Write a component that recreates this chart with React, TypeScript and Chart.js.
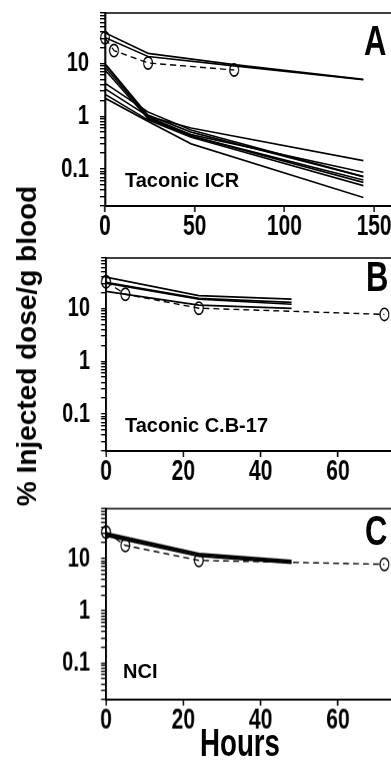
import React, { useEffect, useRef } from "react";
import { Chart, registerables } from "chart.js";

Chart.register(...registerables);

// ---------- data ----------
// Panel A – Taconic ICR
const aHoursHigh = [0, 24, 72, 144];
const aHigh1 = [38, 15.5, 9.5, 5.0];
const aHigh2 = [31, 13.5, 9.0, 4.9];
const aHoursLow = [0, 24, 48, 144];
const aLow1 = [9.5, 1.0, 0.6, 0.145];
const aLow2 = [8.5, 0.95, 0.45, 0.087];
const aLow3 = [10, 1.05, 0.5, 0.072];
const aLow4 = [7.5, 0.9, 0.42, 0.062];
const aLow5 = [4.2, 1.2, 0.55, 0.072];
const aLow6 = [3.3, 1.0, 0.42, 0.056];
const aLow7 = [2.6, 0.85, 0.4, 0.0485];
const aLow8 = [2.2, 0.8, 0.3, 0.029];
const refHours = [0, 5, 24, 72];
const aRef = [30.5, 17.5, 10.2, 7.5];

// Panel B – Taconic C.B-17
const bHours = [0, 24, 48];
const b1 = [39, 17.5, 15];
const b2 = [31, 15.5, 13];
const b3 = [30, 15, 12];
const b4 = [21, 11.5, 10];
const bRef = [32, 18.5, 10.1, 7.7];

// Panel C – NCI
const cHours = [0, 24, 48];
const c1 = [31, 12.5, 9.2];
const c2 = [29.5, 12, 8.8];
const c3 = [28, 11.3, 8.4];
const c4 = [27, 11, 8.1];
const cRef = [32, 17.8, 9.2, 7.75];

// axes
const yMin = 0.02;
const yMax = 90;
const yMajorTicks = [0.1, 1, 10];
const yMajorLabels = ["0.1", "1", "10"];
const yDecades = [0.01, 0.1, 1, 10];
const xTicksA = [0, 50, 100, 150];
const xTicksBC = [0, 20, 40, 60];
const xMaxA = 160;
const xMaxBC = 75;

// the original figure is drawn vertically stretched
const S = 1.4;
const FONT = "'Liberation Sans', Arial, Helvetica, sans-serif";

function yTickValues(): number[] {
  const out: number[] = [];
  for (const d of yDecades) {
    for (let m = 1; m <= 9; m++) {
      const v = +(d * m).toPrecision(3);
      if (v >= yMin - 1e-9 && v <= yMax + 1e-9) out.push(v);
    }
  }
  return out;
}

function yLabel(v: number): string {
  for (let i = 0; i < yMajorTicks.length; i++) {
    if (Math.abs(v - yMajorTicks[i]) < yMajorTicks[i] * 1e-6) return yMajorLabels[i];
  }
  return "";
}

function solid(xs: number[], ys: number[]) {
  return {
    data: xs.map((x, i) => ({ x, y: ys[i] })),
    borderColor: "#000",
    borderWidth: 1.2,
    pointRadius: 0,
    fill: false,
    tension: 0,
    clip: false as const,
  };
}

function dashed(xs: number[], ys: number[]) {
  return {
    data: xs.map((x, i) => ({ x, y: ys[i] })),
    borderColor: "#000",
    borderWidth: 1.0,
    borderDash: [6, 4],
    pointRadius: 4.4,
    pointStyle: "circle",
    pointBackgroundColor: "rgba(0,0,0,0)",
    pointBorderColor: "#000",
    pointBorderWidth: 1.2,
    fill: false,
    tension: 0,
    clip: false as const,
  };
}

const frameTop = {
  id: "frameTop",
  afterDraw(chart: any) {
    const { ctx, chartArea } = chart;
    ctx.save();
    ctx.strokeStyle = "#000";
    ctx.lineWidth = 1.1;
    ctx.beginPath();
    ctx.moveTo(chartArea.left, chartArea.top);
    ctx.lineTo(chartArea.right, chartArea.top);
    ctx.stroke();
    ctx.restore();
  },
};

function makeConfig(
  datasets: any[],
  xMax: number,
  xTicks: number[],
  axisLeft: number,
  padTop: number,
  padRight: number,
  xAxisH: number
) {
  const yTicks = yTickValues();
  return {
    type: "line" as const,
    data: { datasets },
    plugins: [frameTop],
    options: {
      animation: false as const,
      responsive: false,
      devicePixelRatio: S,
      layout: { padding: { top: padTop, right: padRight, left: 0, bottom: 0 } },
      plugins: { legend: { display: false }, tooltip: { enabled: false } },
      scales: {
        x: {
          type: "linear" as const,
          min: 0,
          max: xMax,
          afterBuildTicks: (s: any) => {
            s.ticks = xTicks.map((v) => ({ value: v }));
          },
          afterFit: (s: any) => {
            s.height = xAxisH;
            s.paddingLeft = 0;
            s.paddingRight = 0;
          },
          ticks: {
            autoSkip: false,
            maxRotation: 0,
            padding: -2,
            color: "#000",
            font: { family: FONT, size: 21, weight: "bold" as const },
          },
          grid: { drawOnChartArea: false, drawTicks: true, tickLength: 4.3, color: "#000", tickWidth: 1.5 },
          border: { display: true, color: "#000", width: 1.4 },
        },
        y: {
          type: "logarithmic" as const,
          min: yMin,
          max: yMax,
          afterBuildTicks: (s: any) => {
            s.ticks = yTicks.map((v) => ({ value: v, major: yLabel(v) !== "" }));
          },
          afterFit: (s: any) => {
            s.width = axisLeft;
            s.paddingTop = 0;
            s.paddingBottom = 0;
          },
          ticks: {
            autoSkip: false,
            padding: 11,
            color: "#000",
            font: { family: FONT, size: 20, weight: "bold" as const },
            callback: (v: any) => yLabel(Number(v)),
          },
          grid: { drawOnChartArea: false, drawTicks: true, tickLength: 5, color: "#000", tickWidth: 1.0 },
          border: { display: true, color: "#000", width: 2 },
        },
      },
    },
  };
}

const CANVAS_W = 430;
const CANVAS_H = 175;

export default function App() {
  const refA = useRef<HTMLCanvasElement>(null);
  const refB = useRef<HTMLCanvasElement>(null);
  const refC = useRef<HTMLCanvasElement>(null);

  useEffect(() => {
    const charts: Chart[] = [];
    const dsA = [
      solid(aHoursHigh, aHigh1),
      solid(aHoursHigh, aHigh2),
      solid(aHoursLow, aLow1),
      solid(aHoursLow, aLow2),
      solid(aHoursLow, aLow3),
      solid(aHoursLow, aLow4),
      solid(aHoursLow, aLow5),
      solid(aHoursLow, aLow6),
      solid(aHoursLow, aLow7),
      solid(aHoursLow, aLow8),
      dashed(refHours, aRef),
    ];
    const dsB = [solid(bHours, b1), solid(bHours, b2), solid(bHours, b3), solid(bHours, b4), dashed(refHours, bRef)];
    const dsC = [solid(cHours, c1), solid(cHours, c2), solid(cHours, c3), solid(cHours, c4), dashed(refHours, cRef)];

    if (refA.current)
      charts.push(new Chart(refA.current, makeConfig(dsA, xMaxA, xTicksA, 105, 13 / S, CANVAS_W - 392, CANVAS_H - 206 / S) as any));
    if (refB.current)
      charts.push(new Chart(refB.current, makeConfig(dsB, xMaxBC, xTicksBC, 106, 13 / S, CANVAS_W - 396, CANVAS_H - 206 / S) as any));
    if (refC.current)
      charts.push(new Chart(refC.current, makeConfig(dsC, xMaxBC, xTicksBC, 106, 13 / S, CANVAS_W - 396, CANVAS_H - 204 / S) as any));
    return () => charts.forEach((c) => c.destroy());
  }, []);

  const canvasStyle = (top: number): React.CSSProperties => ({
    position: "absolute",
    left: 0,
    top,
    width: CANVAS_W,
    height: CANVAS_H,
  });

  const letter: React.CSSProperties = {
    position: "absolute",
    fontFamily: FONT,
    fontWeight: "bold",
    fontSize: 31,
    lineHeight: "31px",
    color: "#000",
    whiteSpace: "nowrap",
  };
  const name: React.CSSProperties = {
    position: "absolute",
    fontFamily: FONT,
    fontWeight: "bold",
    fontSize: 20,
    lineHeight: "20px",
    color: "#000",
    whiteSpace: "nowrap",
  };

  return (
    <div
      style={{
        position: "absolute",
        left: 0,
        top: 0,
        width: 391,
        height: 770,
        overflow: "hidden",
        background: "#fff",
      }}
    >
      {/* vertically stretched part (axes, curves, tick labels, panel letters, x title) */}
      <div
        style={{
          position: "absolute",
          left: 0,
          top: 0,
          width: CANVAS_W,
          height: 770 / S,
          transform: `scaleY(${S})`,
          transformOrigin: "0 0",
        }}
      >
        <canvas ref={refA} width={CANVAS_W} height={CANVAS_H} style={canvasStyle(0)} />
        <canvas ref={refB} width={CANVAS_W} height={CANVAS_H} style={canvasStyle(245 / S)} />
        <canvas ref={refC} width={CANVAS_W} height={CANVAS_H} style={canvasStyle(495 / S)} />

        <div style={{ ...letter, left: 364, top: 55 / S - 26.2 }}>A</div>
        <div style={{ ...letter, left: 366, top: 292 / S - 26.2 }}>B</div>
        <div style={{ ...letter, left: 365, top: 545 / S - 26.2 }}>C</div>

        <div
          style={{
            position: "absolute",
            left: 240,
            top: 757 / S - 23.4,
            transform: "translateX(-50%)",
            fontFamily: FONT,
            fontWeight: "bold",
            fontSize: 27.7,
            lineHeight: "27.7px",
            whiteSpace: "nowrap",
          }}
        >
          Hours
        </div>
      </div>

      <div style={{ ...name, left: 125, top: 170 }}>Taconic ICR</div>
      <div style={{ ...name, left: 125, top: 415 }}>Taconic C.B-17</div>
      <div style={{ ...name, left: 123, top: 661 }}>NCI</div>

      <div
        style={{
          position: "absolute",
          left: 27,
          top: 346,
          transform: "translate(-50%, -50%) rotate(-90deg)",
          fontFamily: FONT,
          fontWeight: "bold",
          fontSize: 28,
          lineHeight: "28px",
          whiteSpace: "nowrap",
        }}
      >
        % Injected dose/g blood
      </div>
    </div>
  );
}
